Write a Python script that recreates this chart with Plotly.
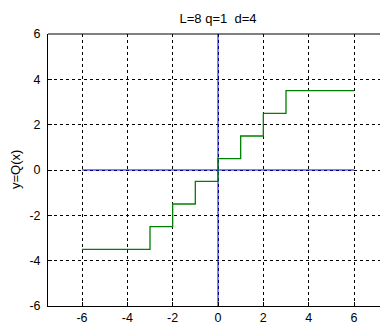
import plotly.graph_objects as go

# Quantizer staircase data
step_x = [-6, -3, -2, -1, 0, 1, 2, 3, 6]
step_y = [-3.5, -2.5, -1.5, -0.5, 0.5, 1.5, 2.5, 3.5, 3.5]
hline_x = [-6, 6]
hline_y = [0, 0]
vline_x = [0, 0]
vline_y = [-6, 6]
x_ticks = [-6, -4, -2, 0, 2, 4, 6]
x_labels = ["-6", "-4", "-2", "0", "2", "4", "6"]
y_ticks = [-6, -4, -2, 0, 2, 4, 6]
y_labels = ["-6", "-4", "-2", "0", "2", "4", "6"]

# page has an 8px body margin; compensate
W, H = 380, 319
L, R, T, B = 40, 0, 26, 21
PW, PH = W - L - R, H - T - B

fig = go.Figure()
fig.add_trace(go.Scatter(x=hline_x, y=hline_y, mode="lines",
                         line=dict(color="#0000ff", width=1), showlegend=False))
fig.add_trace(go.Scatter(x=vline_x, y=vline_y, mode="lines",
                         line=dict(color="#0000ff", width=1), showlegend=False))
fig.add_trace(go.Scatter(x=step_x, y=step_y, mode="lines", line_shape="hv",
                         line=dict(color="#008000", width=1.3), showlegend=False))

FAM = "Liberation Sans, Arial, sans-serif"
font = dict(family=FAM, size=12.5, color="black")
fig.update_layout(
    width=W, height=H,
    margin=dict(l=L, r=R, t=T, b=B, pad=0),
    paper_bgcolor="white", plot_bgcolor="white",
    font=font,
    title=dict(text="L=8 q=1  d=4", x=(L + PW / 2) / W, xanchor="center",
               y=1 - 10 / H, yanchor="middle", font=dict(family=FAM, size=13, color="black")),
    xaxis=dict(range=[-7.5, 7.5], tickvals=x_ticks, ticktext=x_labels, ticks="inside", ticklen=4,
               tickcolor="black", showline=True, linecolor="black", linewidth=1,
               mirror=False, showgrid=True, gridcolor="black", gridwidth=1,
               griddash="3px,3px", zeroline=False, tickfont=font, fixedrange=True,
               automargin=False, ticklabelstandoff=0),
    yaxis=dict(range=[-6, 6], tickvals=y_ticks, ticktext=y_labels, ticks="inside", ticklen=4,
               tickcolor="black", showline=True, linecolor="black", linewidth=1,
               mirror=False, showgrid=True, gridcolor="black", gridwidth=1,
               griddash="3px,3px", zeroline=False, tickfont=font, fixedrange=True,
               automargin=False, ticklabelstandoff=4),
    annotations=[dict(text="y=Q(x)", xref="paper", yref="paper",
                      x=(7 - L) / PW, y=0.5, xanchor="center", yanchor="middle",
                      textangle=-90, showarrow=False,
                      font=dict(family=FAM, size=13, color="black"))],
    shapes=[dict(type="line", xref="paper", yref="paper", x0=0, x1=1, y0=1, y1=1,
                 line=dict(color="black", width=1))],
)
fig.write_html("out.html")
